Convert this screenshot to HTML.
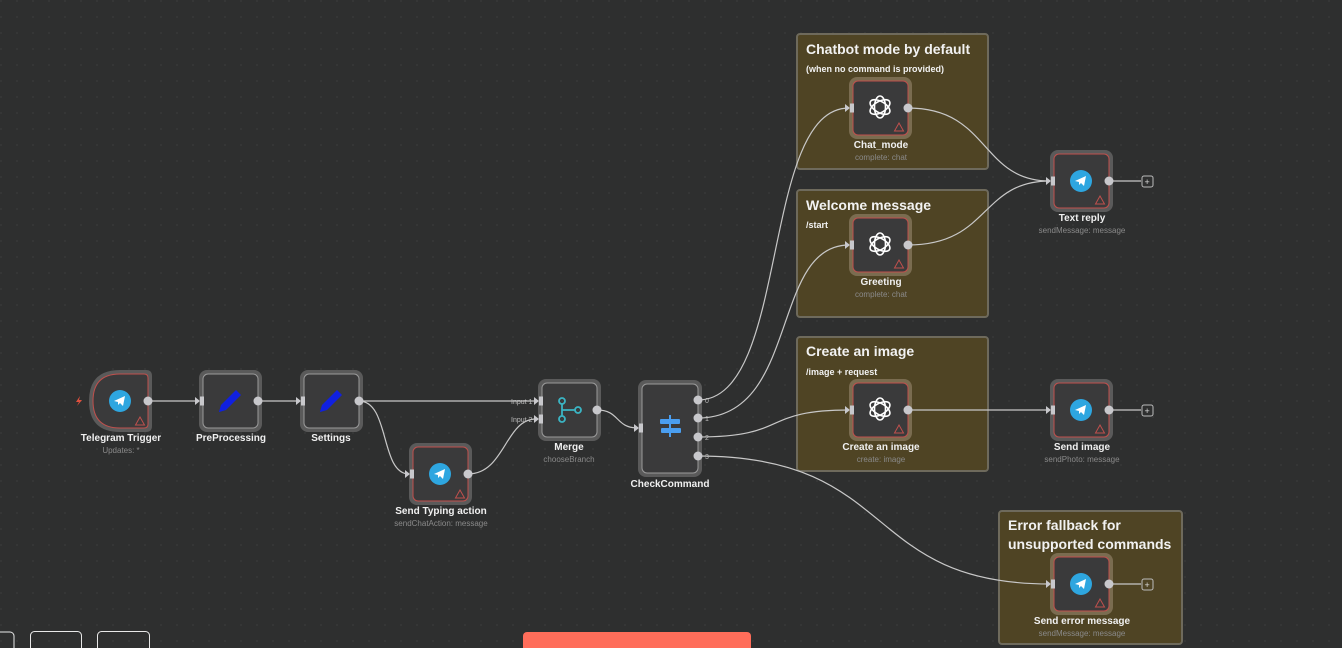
<!DOCTYPE html>
<html><head><meta charset="utf-8"><style>
html,body{margin:0;padding:0;background:#2e2f2f;width:1342px;height:648px;overflow:hidden}
svg{display:block;font-family:"Liberation Sans",sans-serif}
.t{fill:#f0f0f0;font-weight:bold;font-size:10px;text-anchor:middle}
.s{fill:#8a8a8a;font-size:8px;text-anchor:middle}
.e{fill:none;stroke:#c8c8c8;stroke-width:1.2}
.nh{fill:#f2f2f2;font-weight:bold;font-size:14px}
.ns{fill:#f2f2f2;font-weight:bold;font-size:9px}
</style></head><body>
<svg width="1342" height="648" viewBox="0 0 1342 648">
<defs>
<pattern id="dots" width="16" height="16" patternUnits="userSpaceOnUse"><circle cx="1" cy="1" r="0.6" fill="#454646"/></pattern>
<g id="tg"><circle r="11" fill="#2ea6e0"/><path d="M-6,0 L5,-5 L3,5 L0,2 L-2,4 L-2,1 Z" fill="#fff"/></g>
<g id="ai" fill="none" stroke="#fff" stroke-width="1.6">
<ellipse rx="5.5" ry="11" transform="rotate(0)"/><ellipse rx="5.5" ry="11" transform="rotate(60)"/><ellipse rx="5.5" ry="11" transform="rotate(120)"/></g>
<g id="pen"><path d="M-11,11 L-9,4 L6,-11 L11,-6 L-4,9 Z" fill="#1020e0"/><path d="M-11,11 L-9,5 L-5,9 Z" fill="#1020e0"/></g>
<g id="warn"><path d="M0,-4 L4.5,4 L-4.5,4 Z" fill="none" stroke="#c0504d" stroke-width="1"/></g>
<g id="inh"><rect x="0" y="-4.5" width="4" height="9" fill="#c8c8cc"/><path d="M-5,-4 L0,0 L-5,4 Z" fill="#c8c8cc"/></g>
</defs>
<rect width="1342" height="648" fill="url(#dots)"/>

<g stroke="#6e6a5c" stroke-width="2" fill="#4f4424">
<rect x="797" y="34" width="191" height="135" rx="3"/>
<rect x="797" y="190" width="191" height="127" rx="3"/>
<rect x="797" y="337" width="191" height="134" rx="3"/>
<rect x="999" y="511" width="183" height="133" rx="3"/>
</g>
<text class="nh" x="806" y="54">Chatbot mode by default</text>
<text class="ns" x="806" y="72">(when no command is provided)</text>
<text class="nh" x="806" y="210">Welcome message</text>
<text class="ns" x="806" y="228">/start</text>
<text class="nh" x="806" y="356">Create an image</text>
<text class="ns" x="806" y="375">/image + request</text>
<text class="nh" x="1008" y="530">Error fallback for</text>
<text class="nh" x="1008" y="549">unsupported commands</text>

<path class="e" d="M148,401 L199,401"/>
<path class="e" d="M258,401 L300,401"/>
<path class="e" d="M359,401 L536,401"/>
<path class="e" d="M359,401 C390,401 380,474 409,474"/>
<path class="e" d="M468,474 C505,474 505,419 536,419"/>
<path class="e" d="M597,410 C620,410 615,428 638,428"/>
<path class="e" d="M698,400 C790,400 760,108 849,108"/>
<path class="e" d="M698,418 C800,418 770,245 849,245"/>
<path class="e" d="M698,437 C790,437 760,410 849,410"/>
<path class="e" d="M698,456 C900,456 860,584 1050,584"/>
<path class="e" d="M908,108 C990,108 980,181 1050,181"/>
<path class="e" d="M908,245 C990,245 980,181 1050,181"/>
<path class="e" d="M908,410 L1050,410"/>
<path class="e" d="M1109,181 L1141,181"/>
<path class="e" d="M1109,410 L1141,410"/>
<path class="e" d="M1109,584 L1141,584"/>
<g fill="none" stroke="#bbb" stroke-width="1"><rect x="1142" y="176" width="11" height="11" rx="2"/><rect x="1142" y="405" width="11" height="11" rx="2"/><rect x="1142" y="579" width="11" height="11" rx="2"/></g>
<g fill="#ddd" font-size="9" font-family="Liberation Sans"><text x="1144.5" y="185">+</text><text x="1144.5" y="414">+</text><text x="1144.5" y="588">+</text></g>

<path d="M120,370 L146,370 Q152,370 152,376 L152,426 Q152,432 146,432 L120,432 Q89,432 89,401 Q89,370 120,370 Z" fill="#5a5a5a"/>
<path d="M120,374 L144,374 Q148,374 148,378 L148,424 Q148,428 144,428 L120,428 Q93,428 93,401 Q93,374 120,374 Z" fill="#3a3a3b" stroke="#c0504d"/>
<use href="#tg" x="120" y="401"/><use href="#warn" x="140" y="421"/>
<path d="M80,396 L76,402 L79,402 L77,406 L82,400 L79,400 Z" fill="#e0503e"/>
<text class="t" x="121" y="441">Telegram Trigger</text><text class="s" x="121" y="453">Updates: *</text>

<g>
<rect x="199" y="370" width="63" height="62" rx="8" fill="#5a5a5a"/><rect x="203" y="374" width="55" height="54" rx="5" fill="#3a3a3b" stroke="#9a9a9a"/>
<use href="#pen" x="230" y="401"/><text class="t" x="231" y="441">PreProcessing</text>
<rect x="300" y="370" width="63" height="62" rx="8" fill="#5a5a5a"/><rect x="304" y="374" width="55" height="54" rx="5" fill="#3a3a3b" stroke="#9a9a9a"/>
<use href="#pen" x="331" y="401"/><text class="t" x="331" y="441">Settings</text>

<rect x="409" y="443" width="63" height="62" rx="8" fill="#5a5a5a"/><rect x="413" y="447" width="55" height="54" rx="5" fill="#3a3a3b" stroke="#c0504d"/>
<use href="#tg" x="440" y="474"/><use href="#warn" x="460" y="494"/>
<text class="t" x="441" y="514">Send Typing action</text><text class="s" x="441" y="526">sendChatAction: message</text>

<rect x="538" y="379" width="63" height="62" rx="8" fill="#5a5a5a"/><rect x="542" y="383" width="55" height="54" rx="5" fill="#3a3a3b" stroke="#9a9a9a"/>
<g fill="none" stroke="#3bb5c4" stroke-width="1.8"><circle cx="562" cy="401" r="3"/><circle cx="562" cy="419" r="3"/><circle cx="578" cy="410" r="3"/><path d="M562,404 L562,416 M562,410 Q566,410 575,410"/></g>
<text class="t" x="569" y="450">Merge</text><text class="s" x="569" y="462">chooseBranch</text>
<text x="511" y="404" fill="#bbb" font-size="7">Input 1</text><text x="511" y="422" fill="#bbb" font-size="7">Input 2</text>

<rect x="638" y="380" width="64" height="97" rx="8" fill="#5a5a5a"/><rect x="642" y="384" width="56" height="89" rx="5" fill="#3a3a3b" stroke="#9a9a9a"/>
<g fill="#4a9ef0"><rect x="660" y="419" width="20" height="5" rx="1"/><rect x="661" y="428" width="20" height="5" rx="1"/><rect x="669" y="415" width="2" height="22"/></g>
<text class="t" x="670" y="487">CheckCommand</text>
<g fill="#bbb" font-size="7"><text x="705" y="403">0</text><text x="705" y="421">1</text><text x="705" y="440">2</text><text x="705" y="459">3</text></g>

<rect x="849" y="77" width="63" height="62" rx="8" fill="#7a6c50"/><rect x="853" y="81" width="55" height="54" rx="5" fill="#3a3a3b" stroke="#c0504d"/>
<use href="#ai" x="880" y="107"/><use href="#warn" x="899" y="127"/>
<text class="t" x="881" y="148">Chat_mode</text><text class="s" x="881" y="160">complete: chat</text>
<rect x="849" y="214" width="63" height="62" rx="8" fill="#7a6c50"/><rect x="853" y="218" width="55" height="54" rx="5" fill="#3a3a3b" stroke="#c0504d"/>
<use href="#ai" x="880" y="244"/><use href="#warn" x="899" y="264"/>
<text class="t" x="881" y="285">Greeting</text><text class="s" x="881" y="297">complete: chat</text>
<rect x="849" y="379" width="63" height="62" rx="8" fill="#7a6c50"/><rect x="853" y="383" width="55" height="54" rx="5" fill="#3a3a3b" stroke="#c0504d"/>
<use href="#ai" x="880" y="409"/><use href="#warn" x="899" y="429"/>
<text class="t" x="881" y="450">Create an image</text><text class="s" x="881" y="462">create: image</text>

<rect x="1050" y="150" width="63" height="62" rx="8" fill="#5a5a5a"/><rect x="1054" y="154" width="55" height="54" rx="5" fill="#3a3a3b" stroke="#c0504d"/>
<use href="#tg" x="1081" y="181"/><use href="#warn" x="1100" y="200"/>
<text class="t" x="1082" y="221">Text reply</text><text class="s" x="1082" y="233">sendMessage: message</text>
<rect x="1050" y="379" width="63" height="62" rx="8" fill="#5a5a5a"/><rect x="1054" y="383" width="55" height="54" rx="5" fill="#3a3a3b" stroke="#c0504d"/>
<use href="#tg" x="1081" y="410"/><use href="#warn" x="1100" y="429"/>
<text class="t" x="1082" y="450">Send image</text><text class="s" x="1082" y="462">sendPhoto: message</text>
<rect x="1050" y="553" width="63" height="62" rx="8" fill="#7a6c50"/><rect x="1054" y="557" width="55" height="54" rx="5" fill="#3a3a3b" stroke="#c0504d"/>
<use href="#tg" x="1081" y="584"/><use href="#warn" x="1100" y="603"/>
<text class="t" x="1082" y="624">Send error message</text><text class="s" x="1082" y="636">sendMessage: message</text>
</g>

<g fill="#c8c8cc">
<circle cx="148" cy="401" r="4.5"/><circle cx="258" cy="401" r="4.5"/><circle cx="359" cy="401" r="4.5"/>
<circle cx="468" cy="474" r="4.5"/><circle cx="597" cy="410" r="4.5"/>
<circle cx="698" cy="400" r="4.5"/><circle cx="698" cy="418" r="4.5"/><circle cx="698" cy="437" r="4.5"/><circle cx="698" cy="456" r="4.5"/>
<circle cx="908" cy="108" r="4.5"/><circle cx="908" cy="245" r="4.5"/><circle cx="908" cy="410" r="4.5"/>
<circle cx="1109" cy="181" r="4.5"/><circle cx="1109" cy="410" r="4.5"/><circle cx="1109" cy="584" r="4.5"/>
</g>
<use href="#inh" x="200" y="401"/><use href="#inh" x="301" y="401"/><use href="#inh" x="410" y="474"/>
<use href="#inh" x="539" y="401"/><use href="#inh" x="539" y="419"/><use href="#inh" x="639" y="428"/>
<use href="#inh" x="850" y="108"/><use href="#inh" x="850" y="245"/><use href="#inh" x="850" y="410"/>
<use href="#inh" x="1051" y="181"/><use href="#inh" x="1051" y="410"/><use href="#inh" x="1051" y="584"/>

<g fill="none" stroke="#e8e8e8" stroke-width="1">
<rect x="-10" y="632" width="24" height="30" rx="4"/><rect x="30.5" y="631.5" width="51" height="30" rx="4"/><rect x="97.5" y="631.5" width="52" height="30" rx="4"/>
</g>
<rect x="523" y="632" width="228" height="30" rx="4" fill="#ff6d5a"/>
</svg>
</body></html>
